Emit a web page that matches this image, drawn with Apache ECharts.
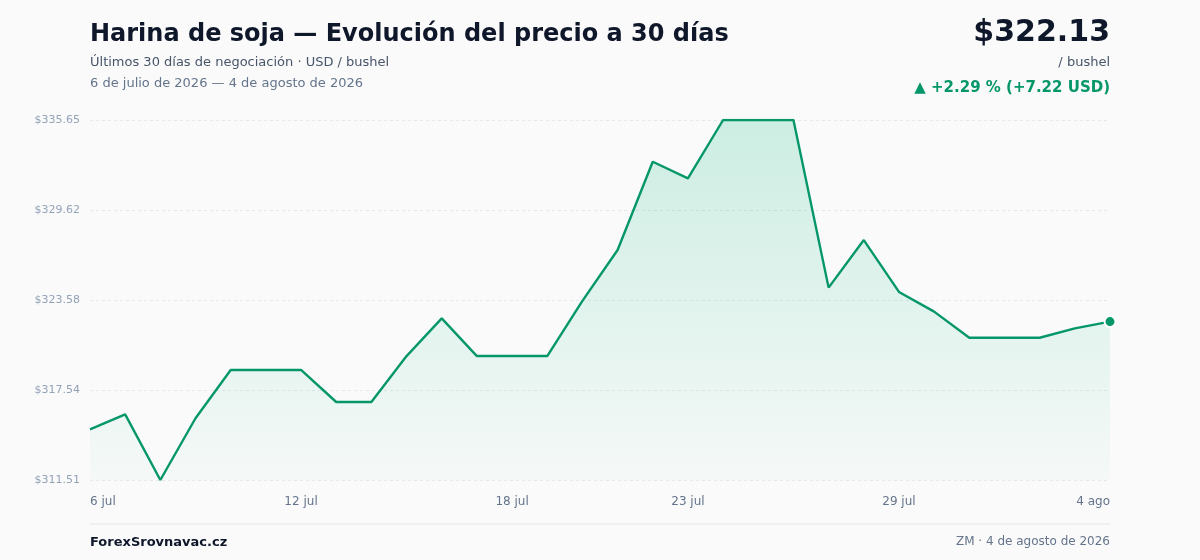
<!DOCTYPE html>
<html>
<head>
	<meta charset="utf-8">
	<title>Harina de soja — Evolución del precio a 30 días</title>
	<script src="https://cdn.jsdelivr.net/npm/echarts@6/dist/echarts.min.js"></script>
	<style type="text/css">
		html, body { margin: 0; padding: 0; background: #fafafa; }
		#chart { width: 1200px; height: 560px; }
	</style>
</head>
<body>
<div id="chart"></div>
<script type="text/javascript">

	// ===========================================  datos
	var days = [
		'6 jul', '7 jul', '8 jul', '9 jul', '10 jul', '11 jul', '12 jul', '13 jul', '14 jul', '15 jul',
		'16 jul', '17 jul', '18 jul', '19 jul', '20 jul', '21 jul', '22 jul', '23 jul', '24 jul', '25 jul',
		'26 jul', '27 jul', '28 jul', '29 jul', '30 jul', '31 jul', '1 ago', '2 ago', '3 ago', '4 ago'
	];
	var prices = [
		314.91, 315.91, 311.51, 315.65, 318.89, 318.89, 318.89, 316.74, 316.74, 319.82,
		322.35, 319.82, 319.82, 319.82, 323.52, 326.93, 332.85, 331.74, 335.65, 335.65,
		335.65, 324.41, 327.60, 324.12, 322.80, 321.05, 321.05, 321.05, 321.68, 322.13
	];
	var labelDays = [0, 6, 12, 17, 23, 29];  // índices con etiqueta en X
	var yTicks = [311.51, 317.54, 323.58, 329.62, 335.65];
	var yTickLabels = ['$311.51', '$317.54', '$323.58', '$329.62', '$335.65'];

	var FONT = 'DejaVu Sans';
	var GREEN = '#059669';
	var last = prices.length - 1;

	// texto de cabecera / pie
	function txt(text, pos, size, weight, color) {
		var t = {
			text: text,
			padding: 0,
			textStyle: { fontFamily: FONT, fontSize: size, fontWeight: weight, color: color }
		};
		for (var k in pos) t[k] = pos[k];
		return t;
	}

	var myChart = echarts.init(document.getElementById('chart'));
	var option = {
		backgroundColor: '#fafafa',
		textStyle: { fontFamily: FONT },
		title: [
			txt('Harina de soja — Evolución del precio a 30 días', { left: 90, top: 23 }, 24, 'bold', '#0f172a'),
			txt('Últimos 30 días de negociación · USD / bushel', { left: 90, top: 56 }, 13, 'normal', '#475569'),
			txt('6 de julio de 2026 — 4 de agosto de 2026', { left: 90, top: 77 }, 13, 'normal', '#64748b'),
			txt('$' + prices[last].toFixed(2), { right: 90, top: 18 }, 30, 'bold', '#0f172a'),
			txt('/ bushel', { right: 90, top: 56 }, 13, 'normal', '#475569'),
			txt('▲ +2.29 % (+7.22 USD)', { right: 90, top: 81 }, 15, 'bold', GREEN),
			txt('ForexSrovnavac.cz', { left: 90, top: 536 }, 13, 'bold', '#0f172a'),
			txt('ZM · 4 de agosto de 2026', { right: 90, top: 536 }, 12, 'normal', '#64748b')
		],
		graphic: [{
			type: 'line',
			shape: { x1: 90, y1: 524, x2: 1110, y2: 524 },
			style: { stroke: '#e5e7eb', lineWidth: 1 }
		}],
		grid: { left: 90, right: 90, top: 120, bottom: 80 },
		xAxis: {
			type: 'category',
			boundaryGap: false,
			data: days,
			axisLine: { show: false },
			axisTick: { show: false },
			axisLabel: {
				interval: function(idx) { return labelDays.indexOf(idx) >= 0; },
				alignMinLabel: 'left',
				alignMaxLabel: 'right',
				margin: 16,
				fontFamily: FONT,
				fontSize: 12,
				color: '#64748b'
			}
		},
		yAxis: {
			type: 'value',
			min: yTicks[0],
			max: yTicks[yTicks.length - 1],
			axisLine: { show: false },
			axisTick: { show: false, customValues: yTicks },
			axisLabel: {
				customValues: yTicks,
				margin: 10,
				fontFamily: FONT,
				fontSize: 11,
				color: '#94a3b8',
				formatter: function(v) {
					var best = 0;
					for (var i = 1; i < yTicks.length; i++) {
						if (Math.abs(yTicks[i] - v) < Math.abs(yTicks[best] - v)) best = i;
					}
					return yTickLabels[best];
				}
			},
			splitLine: {
				lineStyle: { color: '#e5e7eb', type: [3, 3], width: 1 }
			}
		},
		series: [{
			type: 'line',
			data: prices,
			showSymbol: true,
			symbol: 'circle',
			symbolSize: function(v, p) { return p.dataIndex === last ? 11 : 0; },
			itemStyle: { color: GREEN, borderColor: '#ffffff', borderWidth: 2 },
			lineStyle: { color: GREEN, width: 2.4 },
			areaStyle: {
				color: new echarts.graphic.LinearGradient(0, 0, 0, 1, [
					{ offset: 0, color: 'rgba(16,185,129,0.28)' },
					{ offset: 1, color: 'rgba(16,185,129,0.03)' }
				])
			},
			silent: true,
			animation: false
		}]
	};
	myChart.setOption(option);

</script>
</body>
</html>
